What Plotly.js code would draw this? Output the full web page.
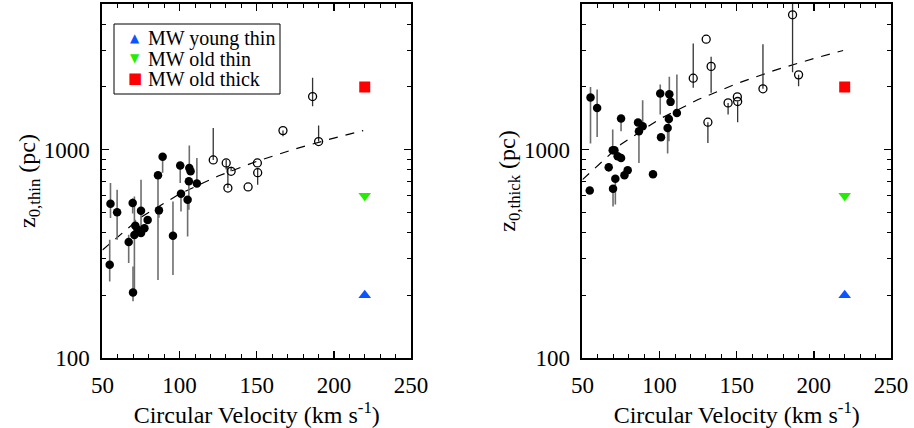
<!DOCTYPE html>
<html>
<head>
<meta charset="utf-8">
<script src="https://cdn.plot.ly/plotly-3.0.1.min.js"></script>
<style>html,body{margin:0;padding:0;background:#fff}#chart{width:914px;height:428px}</style>
</head>
<body>
<div id="chart"></div>
<script>
// Filled-circle galaxies (velocity, km/s)
const velFilled = [54.7,55.2,59.5,67.0,69.6,69.8,71.3,70.7,72.8,75.0,75.0,77.2,79.3,86.0,86.6,89.0,95.7,100.4,100.9,105.2,106.0,106.3,107.1,111.2];
const thinFilled = [280,550,500,360,554,206,431,389,412,509,398,419,460,753,511,925,386,838,614,575,705,816,787,687];
const thinFilledUp = [89,142,142,30,30,69,30,207,0,208,0,20,0,0,0,0,178,0,0,0,0,230,0,225];
const thinFilledDown = [47,80,131,74,60,19,30,184,0,126,0,20,0,516,40,150,136,146,109,192,190,0,0,0];
const thickFilled = [636,1778,1586,822,993,649,725,993,929,1409,912,753,796,1348,1225,1295,761,1858,1146,1271,1404,1846,1695,1500];
const thickFilledUp = [0,222,358,40,255,0,0,0,0,0,0,40,0,0,0,432,0,195,0,0,0,389,0,794];
const thickFilledDown = [0,709,436,40,0,115,180,0,0,184,0,0,0,0,362,0,0,385,0,314,307,0,0,0];

// Open-circle galaxies
const velOpen = [121.8,130.2,133.4,131.3,144.4,150.4,150.6,167.0,186.2,190.1];
const thinOpen = [892,863,787,654,662,863,775,1234,1798,1093];
const thinOpenUp = [379,30,40,178,0,0,40,0,412,212];
const thinOpenDown = [0,60,0,0,0,0,96,75,183,0];
const thickOpen = [2202,3389,2508,1354,1676,1791,1702,1958,4435,2285];
const thickOpenUp = [1032,0,279,0,0,0,0,1242,700,0];
const thickOpenDown = [222,0,635,277,203,0,348,0,2081,269];

// Dashed fit lines
const fitVel = [50,75,100,125,150,175,200,219];
const fitThin = [330,474,613,747,879,1008,1136,1234];
const fitThick = [718,1061,1402,1739,2074,2407,2738,2990];

// Milky Way
const mwVel = [220];
const mwYoungThin = [200];
const mwOldThin = [600];
const mwOldThick = [2000];
const mwNames = ['MW young thin','MW old thin','MW old thick'];
const mwColors = ['#0a55ff','#22ee00','#ff0000'];
const mwGlyphs = ['▲','▼','■'];

const xTicks = [50,100,150,200,250];
const xMinor = [60,70,80,90,110,120,130,140,160,170,180,190,210,220,230,240];
const yTicks = [100,1000];
const yMinor = [200,300,400,500,600,700,800,900,2000,3000,4000,5000];

const FONT = '"Liberation Serif", "Times New Roman", Times, serif';
const errCol = '#6e6e6e';

function panel(xa, ya, zF, upF, dnF, zO, upO, dnO, fit) {
  return [
    {x: fitVel, y: fit, xaxis: xa, yaxis: ya, mode: 'lines', showlegend: false, hoverinfo: 'skip',
     line: {color: '#000', width: 1.2, dash: '9px,8px'}},
    {x: velFilled, y: zF, xaxis: xa, yaxis: ya, mode: 'markers', showlegend: false,
     marker: {color: '#000', size: 8.5, symbol: 'circle'},
     error_y: {type: 'data', symmetric: false, array: upF, arrayminus: dnF, color: errCol, thickness: 1.6, width: 0}},
    {x: velOpen, y: zO, xaxis: xa, yaxis: ya, mode: 'markers', showlegend: false,
     marker: {color: '#000', size: 8, symbol: 'circle-open', line: {color: '#000', width: 1.3}},
     error_y: {type: 'data', symmetric: false, array: upO, arrayminus: dnO, color: '#333', thickness: 1.3, width: 0}},
    {x: mwVel, y: mwYoungThin, xaxis: xa, yaxis: ya, mode: 'markers', name: mwNames[0], showlegend: false,
     marker: {color: mwColors[0], size: 11, symbol: 'triangle-up'}},
    {x: mwVel, y: mwOldThin, xaxis: xa, yaxis: ya, mode: 'markers', name: mwNames[1], showlegend: false,
     marker: {color: mwColors[1], size: 11, symbol: 'triangle-down'}},
    {x: mwVel, y: mwOldThick, xaxis: xa, yaxis: ya, mode: 'markers', name: mwNames[2], showlegend: false,
     marker: {color: mwColors[2], size: 11, symbol: 'square'}}
  ];
}

const data = [].concat(
  panel('x', 'y', thinFilled, thinFilledUp, thinFilledDown, thinOpen, thinOpenUp, thinOpenDown, fitThin),
  panel('x2', 'y2', thickFilled, thickFilledUp, thickFilledDown, thickOpen, thickOpenUp, thickOpenDown, fitThick)
);

function xAxis(domain, anchor) {
  return {
    domain: domain, anchor: anchor, range: [50, 250],
    tickmode: 'array', tickvals: xTicks, ticks: 'inside', ticklen: 7, tickwidth: 1.3, tickcolor: '#000',
    minor: {tickmode: 'array', tickvals: xMinor, ticks: 'inside', ticklen: 4, tickwidth: 1, tickcolor: '#000'},
    showline: true, linecolor: '#000', linewidth: 2, mirror: 'ticks', showgrid: false, zeroline: false,
    tickfont: {family: FONT, size: 23, color: '#000'}, ticklabelstandoff: 5,
    title: {text: 'Circular Velocity (km s<sup>-1</sup>)', font: {family: FONT, size: 24, color: '#000'}, standoff: 1}
  };
}
function yAxis(anchor, sub) {
  return {
    domain: [0.1636, 0.9907], anchor: anchor, type: 'log', range: [2, Math.log10(5000)],
    tickmode: 'array', tickvals: yTicks, ticktext: ['100', '1000'], ticks: 'inside', ticklen: 7, tickwidth: 1.3, tickcolor: '#000',
    minor: {tickmode: 'array', tickvals: yMinor, ticks: 'inside', ticklen: 4, tickwidth: 1, tickcolor: '#000'},
    showline: true, linecolor: '#000', linewidth: 2, mirror: 'ticks', showgrid: false, zeroline: false,
    tickfont: {family: FONT, size: 23, color: '#000'}, ticklabelstandoff: 6,
    title: {text: 'z<sub>0,' + sub + '</sub> (pc)', font: {family: FONT, size: 24, color: '#000'}, standoff: 0}
  };
}

// Legend drawn as a box with annotations (rows closely spaced as in the reference)
const W = 914, H = 428;
const legRows = [38, 58, 78];
const annotations = [];
mwNames.forEach((nm, i) => {
  annotations.push({xref: 'paper', yref: 'paper', x: 135 / W, y: 1 - legRows[i] / H, xanchor: 'center', yanchor: 'middle',
    text: mwGlyphs[i], showarrow: false, font: {family: 'DejaVu Sans', size: i === 2 ? 15 : 12, color: mwColors[i]}});
  annotations.push({xref: 'paper', yref: 'paper', x: 146 / W, y: 1 - (legRows[i] + 1) / H, xanchor: 'left', yanchor: 'middle',
    text: nm, showarrow: false, font: {family: FONT, size: 20, color: '#000'}});
});

const layout = {
  width: W, height: H,
  margin: {l: 0, r: 0, t: 0, b: 0},
  paper_bgcolor: '#fff', plot_bgcolor: '#fff',
  font: {family: FONT, color: '#000'},
  xaxis: xAxis([0.1121, 0.4497], 'y'),
  yaxis: yAxis('x', 'thin'),
  xaxis2: xAxis([0.6373, 0.9748], 'y2'),
  yaxis2: yAxis('x2', 'thick'),
  shapes: [{type: 'rect', xref: 'paper', yref: 'paper', x0: 114 / W, x1: 280 / W, y0: 1 - 94 / H, y1: 1 - 24 / H,
            line: {color: '#000', width: 1}, fillcolor: 'rgba(0,0,0,0)'}],
  annotations: annotations,
  showlegend: false
};

Plotly.newPlot('chart', data, layout, {displayModeBar: false, staticPlot: true});
</script>
</body>
</html>
